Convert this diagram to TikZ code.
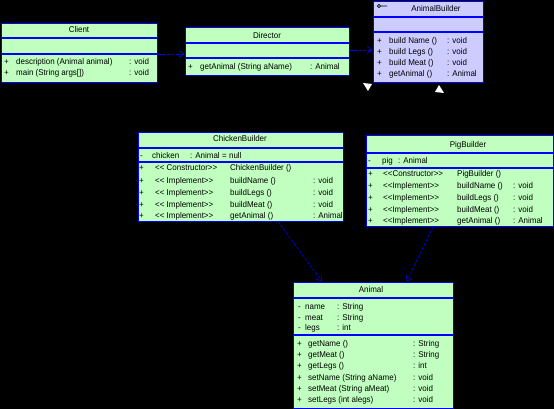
\documentclass[tikz,border=0pt]{standalone}
\usepackage{fontspec}
\setmainfont{Liberation Sans}[FakeStretch=0.95,Ligatures=NoCommon]
\usetikzlibrary{arrows.meta}
\definecolor{umlgreen}{RGB}{192,255,192}
\definecolor{umllav}{RGB}{204,204,255}
\definecolor{umlblue}{RGB}{0,0,255}
\newcommand{\lguil}{<\kern0pt<}
\newcommand{\rguil}{>\kern0pt>}
\begin{document}
\begin{tikzpicture}[x=1pt,y=-1pt,
  font=\fontsize{8.4}{10}\selectfont,
  t/.style={anchor=west,inner sep=0pt,text height=6pt,text depth=0pt,text=black},
  ttl/.style={anchor=center,inner sep=0pt,text height=6pt,text depth=0pt,text=black},
  umlbox/.style={draw=umlblue,line width=1.1pt,fill=umlgreen,anchor=north west,inner sep=0pt},
  sep/.style={draw=umlblue,line width=1.1pt},
  dep/.style={draw=umlblue,line width=0.6pt,dash pattern=on 3pt off 1.5pt,-{Straight Barb[length=5pt,width=7pt]}},
  tri/.style={fill=white,draw=none}]
\fill[black] (0,0) rectangle (554,409);
\useasboundingbox (0,0) rectangle (554,409);

% Client
\node[umlbox,minimum width=156.5pt,minimum height=59pt] (client) at (0.6,23) {};
\draw[sep] (0.6,38) -- (157,38) (0.6,54) -- (157,54);
\node[ttl] (clientT) at (79,30) {Client};
\node[t] (cp1) at (4,62) {+};
\node[t] (cn1) at (16,62) {description (Animal animal)};
\node[t] (cr1) at (129,62) {: void};
\node[t] (cp2) at (4,73) {+};
\node[t] (cn2) at (16,73) {main (String args[])};
\node[t] (cr2) at (129,73) {: void};

% Director
\node[umlbox,minimum width=164pt,minimum height=48pt] (director) at (185,27) {};
\draw[sep] (185,43) -- (349,43) (185,58) -- (349,58);
\node[ttl] (directorT) at (267,36) {Director};
\node[t] (dp1) at (188,67) {+};
\node[t] (dn1) at (200,67) {getAnimal (String aName)};
\node[t] (dr1) at (310,67) {: Animal};

% AnimalBuilder
\node[umlbox,fill=umllav,minimum width=110pt,minimum height=81.4pt] (builder) at (373,0.6) {};
\draw[sep] (373,17) -- (483,17) (373,32) -- (483,32);
\draw[black,line width=0.8pt] (379,6) circle (1.6pt) (380.6,6) -- (387,6);
\node[ttl] (builderT) at (436,9) {AnimalBuilder};
\node[t] (bp1) at (377,41) {+};
\node[t] (bn1) at (389,41) {build Name ()};
\node[t] (br1) at (447,41) {: void};
\node[t] (bp2) at (377,52) {+};
\node[t] (bn2) at (389,52) {build Legs ()};
\node[t] (br2) at (447,52) {: void};
\node[t] (bp3) at (377,63) {+};
\node[t] (bn3) at (389,63) {build Meat ()};
\node[t] (br3) at (447,63) {: void};
\node[t] (bp4) at (377,74) {+};
\node[t] (bn4) at (389,74) {getAnimal ()};
\node[t] (br4) at (447,74) {: Animal};
\fill[tri] (363,83) -- (372,84) -- (368,91) -- cycle;
\fill[tri] (439,85) -- (444,93) -- (435,92) -- cycle;

% ChickenBuilder
\node[umlbox,minimum width=205pt,minimum height=89pt] (chicken) at (138,132) {};
\draw[sep] (138,148) -- (343,148) (138,162) -- (343,162);
\node[ttl] (chickenT) at (240,139) {ChickenBuilder};
\node[t] (ka0) at (140,155) {-};
\node[t] (kb0) at (152,155) {chicken};
\node[t] (kc0) at (190,155) {: Animal};
\node[t] (kd0) at (222,155) {= null};
\node[t] (kp1) at (139,168) {+};
\node[t] (ks1) at (155,168) {\lguil{} Constructor\rguil};
\node[t] (kn1) at (230,168) {ChickenBuilder ()};
\node[t] (kp2) at (139,180) {+};
\node[t] (ks2) at (155,180) {\lguil{} Implement\rguil};
\node[t] (kn2) at (230,180) {buildName ()};
\node[t] (kr2) at (313,180) {: void};
\node[t] (kp3) at (139,192) {+};
\node[t] (ks3) at (155,192) {\lguil{} Implement\rguil};
\node[t] (kn3) at (230,192) {buildLegs ()};
\node[t] (kr3) at (313,192) {: void};
\node[t] (kp4) at (139,204) {+};
\node[t] (ks4) at (155,204) {\lguil{} Implement\rguil};
\node[t] (kn4) at (230,204) {buildMeat ()};
\node[t] (kr4) at (313,204) {: void};
\node[t] (kp5) at (139,215) {+};
\node[t] (ks5) at (155,215) {\lguil{} Implement\rguil};
\node[t] (kn5) at (230,215) {getAnimal ()};
\node[t] (kr5) at (313,215) {: Animal};

% PigBuilder
\node[umlbox,minimum width=187pt,minimum height=91pt] (pig) at (366,135) {};
\draw[sep] (366,153) -- (553,153) (366,168) -- (553,168);
\node[ttl] (pigT) at (468,144) {PigBuilder};
\node[t] (pa0) at (368,161) {-};
\node[t] (pb0) at (382,161) {pig};
\node[t] (pc0) at (398,161) {: Animal};
\node[t] (pp1) at (368,173) {+};
\node[t] (ps1) at (383,173) {\lguil Constructor\rguil};
\node[t] (pn1) at (457,173) {PigBuilder ()};
\node[t] (pp2) at (368,185) {+};
\node[t] (ps2) at (383,185) {\lguil Implement\rguil};
\node[t] (pn2) at (457,185) {buildName ()};
\node[t] (pr2) at (513,185) {: void};
\node[t] (pp3) at (368,197) {+};
\node[t] (ps3) at (383,197) {\lguil Implement\rguil};
\node[t] (pn3) at (457,197) {buildLegs ()};
\node[t] (pr3) at (513,197) {: void};
\node[t] (pp4) at (368,209) {+};
\node[t] (ps4) at (383,209) {\lguil Implement\rguil};
\node[t] (pn4) at (457,209) {buildMeat ()};
\node[t] (pr4) at (513,209) {: void};
\node[t] (pp5) at (368,220) {+};
\node[t] (ps5) at (383,220) {\lguil Implement\rguil};
\node[t] (pn5) at (457,220) {getAnimal ()};
\node[t] (pr5) at (513,220) {: Animal};

% Animal
\node[umlbox,minimum width=160pt,minimum height=126pt] (animal) at (293,282) {};
\draw[sep] (293,298) -- (453,298) (293,335) -- (453,335);
\node[ttl] (animalT) at (371,289) {Animal};
\node[t] (aa1) at (298,306) {-};
\node[t] (ab1) at (305,306) {name};
\node[t] (ac1) at (337,306) {: String};
\node[t] (aa2) at (298,317) {-};
\node[t] (ab2) at (305,317) {meat};
\node[t] (ac2) at (337,317) {: String};
\node[t] (aa3) at (298,327) {-};
\node[t] (ab3) at (305,327) {legs};
\node[t] (ac3) at (337,327) {: int};
\node[t] (ap1) at (297,343) {+};
\node[t] (an1) at (308,343) {getName ()};
\node[t] (ar1) at (413,343) {: String};
\node[t] (ap2) at (297,354) {+};
\node[t] (an2) at (308,354) {getMeat ()};
\node[t] (ar2) at (413,354) {: String};
\node[t] (ap3) at (297,365) {+};
\node[t] (an3) at (308,365) {getLegs ()};
\node[t] (ar3) at (413,365) {: int};
\node[t] (ap4) at (297,377) {+};
\node[t] (an4) at (308,377) {setName (String aName)};
\node[t] (ar4) at (413,377) {: void};
\node[t] (ap5) at (297,388) {+};
\node[t] (an5) at (308,388) {setMeat (String aMeat)};
\node[t] (ar5) at (413,388) {: void};
\node[t] (ap6) at (297,399) {+};
\node[t] (an6) at (308,399) {setLegs (int alegs)};
\node[t] (ar6) at (413,399) {: void};

% connector end points on the box edges
\coordinate (cd1) at (157.5,54);
\coordinate (cd2) at (184.5,54);
\coordinate (db1) at (349.5,50);
\coordinate (db2) at (372.5,50);
\coordinate (ka1) at (278,221.5);
\coordinate (ka2) at (322,281.5);
\coordinate (pa1) at (433,226.5);
\coordinate (pa2) at (407,281.5);
\draw[dep] (cd1) -- (cd2);
\draw[dep] (db1) -- (db2);
\draw[dep] (ka1) -- (ka2);
\draw[dep] (pa1) -- (pa2);
\end{tikzpicture}
\end{document}
